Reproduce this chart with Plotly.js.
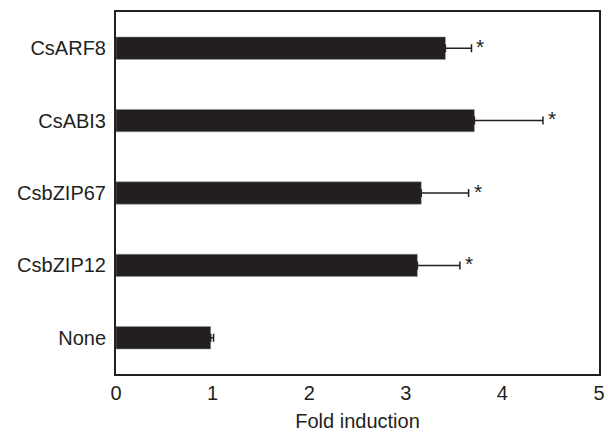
<!DOCTYPE html>
<html><head><meta charset="utf-8">
<script src="https://cdn.plot.ly/plotly-3.0.1.min.js"></script>
<style>html,body{margin:0;padding:0;background:#fff}#chart{width:608px;height:432px}</style>
</head><body><div id="chart"></div>
<script>
const categories = ["CsARF8", "CsABI3", "CsbZIP67", "CsbZIP12", "None"];
const foldValues = [3.41, 3.71, 3.16, 3.12, 0.98];
const foldErrors = [0.27, 0.71, 0.49, 0.44, 0.03];
const significance = ["*", "*", "*", "*", ""];
const xTicks = [0, 1, 2, 3, 4, 5];

const trace = {
  type: "bar", orientation: "h",
  y: categories, x: foldValues,
  width: 0.31,
  marker: {color: "#231f20", line: {color: "#9a9a9a", width: 0.5}},
  error_x: {type: "data", array: foldErrors, arrayminus: foldErrors.map(()=>0), symmetric: false,
            color: "#231f20", thickness: 1.5, width: 4},
  hoverinfo: "none"
};

const annotations = categories.map((c, i) => ({
  x: foldValues[i] + foldErrors[i], y: c, text: significance[i],
  showarrow: false, xanchor: "left", xshift: 3, yshift: 2,
  font: {family: "Liberation Sans, Arial, sans-serif", size: 21, color: "#231f20"}
})).filter(a => a.text);

const layout = {
  width: 608, height: 432,
  margin: {l: 116, r: 9, t: 12, b: 58},
  paper_bgcolor: "#fff", plot_bgcolor: "#fff",
  showlegend: false,
  font: {family: "Liberation Sans, Arial, sans-serif", size: 20, color: "#231f20"},
  xaxis: {range: [0, 5], tickvals: xTicks, ticks: "", showgrid: false, zeroline: false,
          showline: true, mirror: true, linecolor: "#231f20", linewidth: 2,
          title: {text: "Fold induction", font: {size: 20}, standoff: 14},
          tickfont: {size: 20}},
  yaxis: {categoryorder: "array", categoryarray: categories, autorange: "reversed",
          ticks: "", showgrid: false, zeroline: false,
          showline: true, mirror: true, linecolor: "#231f20", linewidth: 2,
          tickfont: {size: 20}, ticklabelstandoff: 4},
  annotations: annotations
};

Plotly.newPlot("chart", [trace], layout, {staticPlot: true, displayModeBar: false});
</script></body></html>
